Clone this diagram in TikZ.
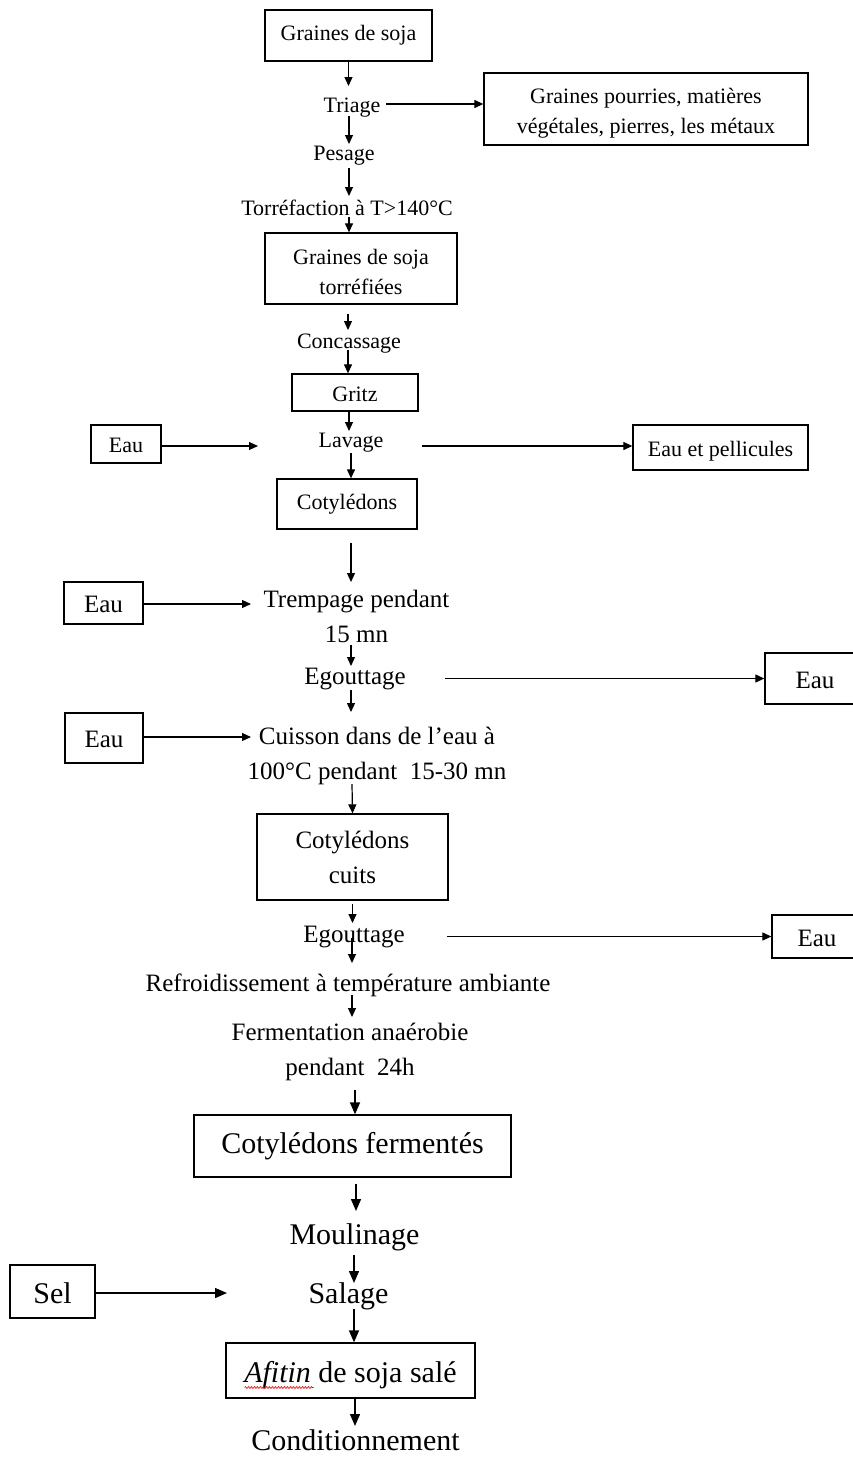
\documentclass[tikz,border=0pt]{standalone}
\usepackage{fontspec}
\setmainfont{Liberation Serif}
\usetikzlibrary{arrows.meta,calc,decorations.pathmorphing}
\begin{document}
\begin{tikzpicture}[x=1pt,y=-1pt,
  fa/.style={font=\fontsize{22}{30}\selectfont},
  fb/.style={font=\fontsize{25}{35}\selectfont},
  fc/.style={font=\fontsize{30}{36}\selectfont},
  sa/.style={fa, text height=21.8pt, text depth=4.8pt},
  sb/.style={fb, text height=24.8pt, text depth=5.5pt},
  sc/.style={fc, text height=29.7pt, text depth=6.6pt},
  sa0/.style={fa, text height=15.2pt, text depth=4.8pt},
  sb0/.style={fb, text height=17.3pt, text depth=5.5pt},
  sc0/.style={fc, text height=20.7pt, text depth=6.6pt},
  lbl/.style={inner sep=0pt, align=center},
  boxn/.style={draw, line width=1.3pt, inner sep=0pt, align=center},
  arr/.style={line width=1.2pt, -{Triangle[length=9pt,width=8pt]}},
  arrL/.style={line width=1.4pt, -{Triangle[length=12pt,width=10pt]}}]
\useasboundingbox (0,0) rectangle (853,1457);
\fill[white] (0,0) rectangle (853,1457);
\clip (0,0) rectangle (853,1457);

% ---- top section (22px)
\node[boxn,sa0,minimum width=167pt,minimum height=51pt] (b1) at (348.5,35.5) {Graines de soja};
\node[lbl,sa] (tri) at (352,104) {Triage};
\node[boxn,fa,minimum width=324pt,minimum height=72pt] (rb1) at (646,109) {\raisebox{-4pt}[\height][\depth]{\parbox{320pt}{\centering Graines pourries, matières\\végétales, pierres, les métaux}}};
\node[lbl,sa] (pes) at (344,152) {Pesage};
\node[lbl,sa] (tor) at (347,207) {Torréfaction à T>140°C};
\node[boxn,fa,minimum width=192pt,minimum height=71pt] (b2) at (361,268.5) {\raisebox{-3pt}[\height][\depth]{\parbox{188pt}{\centering Graines de soja\\torréfiées}}};
\node[lbl,sa] (conc) at (349,340) {Concassage};
\node[boxn,sa,minimum width=126pt,minimum height=37pt] (gritz) at (355,392.5) {Gritz};
\node[lbl,sa] (lav) at (351,439) {Lavage};
\node[boxn,sa,minimum width=70pt,minimum height=38pt] (eau1) at (126,444) {Eau};
\node[boxn,sa,minimum width=175pt,minimum height=45pt] (eaup) at (720.5,447.5) {Eau et pellicules};
\node[boxn,sa0,minimum width=140pt,minimum height=50pt] (coty) at (347,504) {Cotylédons};

% ---- middle section (25px)
\node[boxn,sb,minimum width=79pt,minimum height=42pt] (eau2) at (103.5,603) {Eau};
\node[lbl,fb] (tremp) at (356.5,616) {Trempage pendant\\15 mn};
\node[lbl,sb] (egou1) at (355,675) {Egouttage};
\node[boxn,sb,minimum width=100pt,minimum height=51pt] (eau3) at (815,678.5) {Eau};
\node[boxn,sb,minimum width=78pt,minimum height=50pt] (eau4) at (104,738) {Eau};
\node[lbl,fb] (cuis) at (377,755.5) {Cuisson dans de l’eau à\\100°C pendant~~15-30 mn};
\node[boxn,fb,minimum width=191pt,minimum height=86pt] (cc) at (352.5,857) {Cotylédons\\cuits};
\node[lbl,sb] (egou2) at (354,933) {Egouttage};
\node[boxn,sb,minimum width=90pt,minimum height=43pt] (eau5) at (817,936.5) {Eau};
\node[lbl,sb] (refr) at (348,982) {Refroidissement à température ambiante};
\node[lbl,fb] (ferm) at (350,1052) {Fermentation anaérobie\\pendant~~24h};

% ---- bottom section (30px)
\node[boxn,sc0,minimum width=317pt,minimum height=62pt] (cf) at (352.5,1146) {Cotylédons fermentés};
\node[lbl,sc] (moul) at (354.5,1233) {Moulinage};
\node[boxn,sc,minimum width=85pt,minimum height=53pt] (sel) at (52.5,1291.5) {Sel};
\node[lbl,sc] (sal) at (348.5,1292) {Salage};
\node[boxn,sc,minimum width=249pt,minimum height=55pt] (af) at (350.5,1370.5) {\textit{Afitin} de soja salé};
\node[lbl,fc,text height=29.7pt,text depth=0pt] (cond) at (355.5,1436) {Conditionnement};

% spell-check underline under "Afitin"
\draw[red, line width=0.6pt, decorate, decoration={snake, amplitude=1pt, segment length=3pt}]
  ($(af.center)+(-106,17)$) -- ($(af.center)+(-37,17)$);

% ---- connectors
\draw[arr] (b1.south) -- ($(tri.center)+(-3.5,-18)$);
\draw[arr] ($(tri.center)+(34,0)$) -- (tri.center -| rb1.west);
\draw[arr] ($(tri.center)+(-3,12)$) -- ($(pes.center)+(5,-8)$);
\draw[arr] ($(pes.center)+(5,16)$) -- ($(tor.center)+(2,-11)$);
\draw[arr] ($(tor.center)+(2,10)$) -- ($(b2.north)+(-12,0)$);
\draw[arr] ($(b2.south)+(-13,9)$) -- ($(conc.center)+(-1,-10)$);
\draw[arr] ($(conc.center)+(-1,10)$) -- ($(gritz.north)+(-7,0)$);
\draw[arr] ($(gritz.south)+(-6,0)$) -- ($(lav.center)+(-2,-8)$);
\draw[arr] ($(eau1.east)+(0,2)$) -- ($(lav.center)+(-93,7)$);
\draw[arr] ($(lav.center)+(71,7)$) -- ($(eaup.west)+(0,-1.5)$);
\draw[arr] ($(lav.center)+(0,14)$) -- ($(coty.north)+(4,0)$);

\draw[arr] ($(coty.south)+(4,13)$) -- ($(tremp.center)+(-5.5,-34)$);
\draw[arr] ($(eau2.east)+(0,1)$) -- ($(tremp.center)+(-105.5,-12)$);
\draw[arr] ($(tremp.center)+(-5.5,29)$) -- ($(egou1.center)+(-4,-9)$);
\draw[arr] ($(egou1.center)+(90,3.5)$) -- (eau3.west);
\draw[arr] ($(egou1.center)+(-4,15)$) -- ($(cuis.center)+(-26,-43.5)$);
\draw[arr] ($(eau4.east)+(0,-1)$) -- ($(cuis.center)+(-126,-18.5)$);
\draw[arr] ($(cuis.center)+(-25,28.5)$) -- (cc.north);
\draw[arr] ($(cc.south)+(0,3)$) -- ($(egou2.center)+(-1.5,-10)$);
\draw[arr] ($(egou2.center)+(93,3.5)$) -- (eau5.west);
\draw[arr] ($(egou2.center)+(-2,5)$) -- ($(refr.center)+(4,-19)$);
\draw[arr] ($(refr.center)+(4,13)$) -- ($(ferm.center)+(2,-35)$);

\draw[arrL] ($(ferm.center)+(5,38)$) -- ($(cf.north)+(2.5,0)$);
\draw[arrL] ($(cf.south)+(3.5,6)$) -- ($(moul.center)+(1.5,-22)$);
\draw[arrL] ($(moul.center)+(-0.5,22)$) -- ($(sal.center)+(5.5,-9)$);
\draw[arrL] ($(sel.east)+(0,1.5)$) -- ($(sal.center)+(-121.5,1)$);
\draw[arrL] ($(sal.center)+(5.5,17)$) -- ($(af.north)+(3.5,0)$);
\draw[arrL] ($(af.south)+(4.5,0)$) -- ($(cond.center)+(-0.5,-10)$);
\end{tikzpicture}
\end{document}
